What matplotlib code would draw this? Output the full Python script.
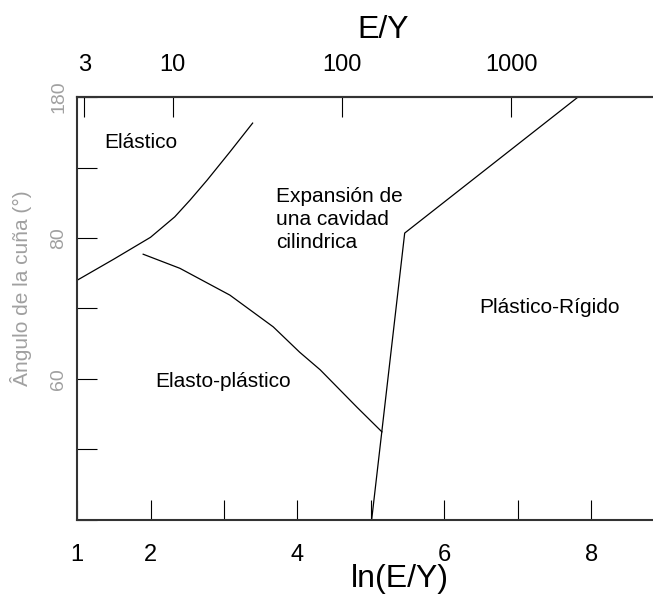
import numpy as np
import matplotlib
matplotlib.use("Agg")
import matplotlib.pyplot as plt

plt.rcParams['font.family'] = ['Liberation Sans', 'DejaVu Sans']

# Boundaries between the regimes, x = ln(E/Y), y = wedge angle (deg)
elastic_x = [1.00, 1.50, 2.00, 2.33, 2.54, 2.77, 3.08, 3.39]
elastic_y = [74.0, 77.0, 80.1, 83.0, 85.4, 88.2, 92.2, 96.3]

elastoplastic_x = [1.90, 2.40, 3.08, 3.67, 4.03, 4.31, 4.81, 5.15]
elastoplastic_y = [77.7, 75.7, 71.9, 67.4, 63.8, 61.3, 56.0, 52.5]

rigid_x = [5.01, 5.46, 7.82]
rigid_y = [40.0, 80.7, 100.0]

# Top axis: E/Y values
ey_values = [3, 10, 100, 1000]
ey_labels = ['3', '10', '100', '1000']

# Bottom and left ticks
x_ticks = [1, 2, 3, 4, 5, 6, 7, 8]
x_labels = ['1', '2', '', '4', '', '6', '', '8']
y_ticks = [40, 50, 60, 70, 80, 90, 100]
y_labels = ['', '', '60', '', '80', '', '180']

regions = [
    (1.37, 93.6, 'Elástico'),
    (3.71, 82.6, 'Expansión de\nuna cavidad\ncilindrica'),
    (6.48, 70.2, 'Plástico-Rígido'),
    (2.06, 59.6, 'Elasto-plástico'),
]

fig = plt.figure(figsize=(6.53, 5.97), dpi=100)
ax = fig.add_axes([0.118, 0.129, 0.882, 0.7085])

ax.plot(elastic_x, elastic_y, color='black', lw=0.9)
ax.plot(elastoplastic_x, elastoplastic_y, color='black', lw=0.9)
ax.plot(rigid_x, rigid_y, color='black', lw=0.9)

for x, y, s in regions:
    ax.text(x, y, s, fontsize=15, va='center', ha='left', linespacing=1.25)

ax.set_xlim(1, 8.84)
ax.set_ylim(40, 100)

ax.spines['right'].set_visible(False)
for side in ['left', 'bottom', 'top']:
    ax.spines[side].set_linewidth(1.5)
    ax.spines[side].set_color('#333333')

ax.set_xticks(x_ticks)
ax.set_xticklabels(x_labels, fontsize=17)
ax.tick_params(axis='x', direction='in', length=14.5, width=0.8, pad=17)

ax.set_yticks(y_ticks)
ax.set_yticklabels(y_labels, fontsize=14, color='#a0a0a0', rotation=90, va='center')
ax.tick_params(axis='y', direction='in', length=14.5, width=0.8, pad=7)

ax.set_xlabel('ln(E/Y)', fontsize=23)
ax.xaxis.set_label_coords(0.56, -0.104)
ax.set_ylabel('Ângulo de la cuña (°)', fontsize=15, color='#a0a0a0')
ax.yaxis.set_label_coords(-0.078, 0.548)

top = ax.twiny()
top.set_xlim(ax.get_xlim())
top.set_xticks(np.log(ey_values))
top.set_xticklabels(ey_labels, fontsize=17)
top.tick_params(axis='x', direction='in', length=14.5, width=0.8, pad=15)
for side in ['left', 'right', 'bottom']:
    top.spines[side].set_visible(False)
top.spines['top'].set_linewidth(1.5)
top.spines['top'].set_color('#333333')
top.set_xlabel('E/Y', fontsize=23)
top.xaxis.set_label_coords(0.531, 1.14)

fig.savefig('out.png', dpi=100)
